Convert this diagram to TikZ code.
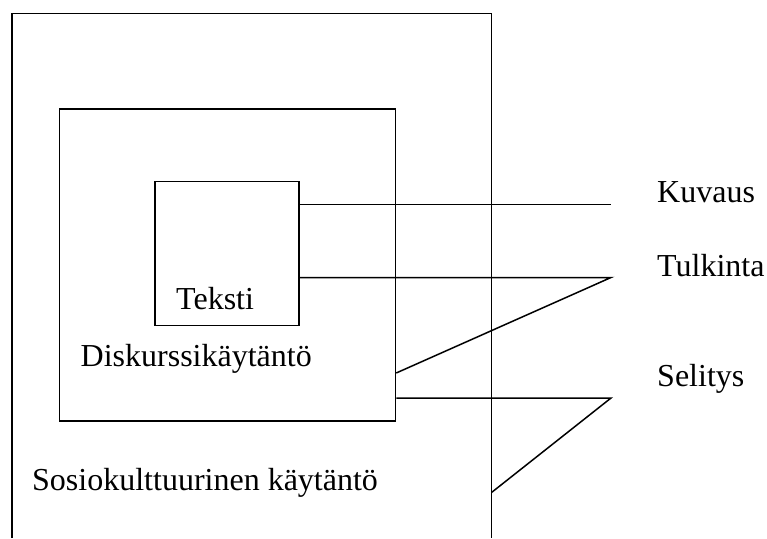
\documentclass[tikz,border=0pt]{standalone}
\usepackage{fontspec}
\setmainfont{Liberation Serif}
\begin{document}
\begin{tikzpicture}[x=1pt,y=-1pt,
  line/.style={line width=1.5pt,black},
  box/.style={draw,line width=1.5pt,inner sep=0pt,minimum width=#1},
  lbl/.style={anchor=base west,inner sep=0pt,font=\fontsize{32}{38}\selectfont}]
\useasboundingbox (0,0) rectangle (767,538);
% outer region (open at bottom)
\coordinate (osw) at (12,538);
\coordinate (onw) at (12,13.5);
\coordinate (one) at (491.5,13.5);
\coordinate (ose) at (491.5,538);
\draw[line,line join=miter] (osw) -- (onw) -- (one) -- (ose);
% inner boxes
\node[box=336pt,minimum height=312pt] (disk) at ({(59.5+395.5)/2},{(109+421)/2}) {};
\node[box=144pt,minimum height=144pt] (teksti) at ({(155+299)/2},{(181.5+325.5)/2}) {};
% labels
\node[lbl] (tTeksti) at (176,309.5) {Teksti};
\node[lbl] (tDisk) at (80.5,366.7) {Diskurssikäytäntö};
\node[lbl] (tSosio) at (32,490) {Sosiokulttuurinen käytäntö};
\node[lbl] (tKuv) at (657,202.3) {Kuvaus};
\node[lbl] (tTul) at (657,276) {Tulkinta};
\node[lbl] (tSel) at (657,386.7) {Selitys};
% connector points
\coordinate (k1) at (teksti.east |- 0,204.5);
\coordinate (k2) at (611,204.5);
\coordinate (t1) at (teksti.east |- 0,277.5);
\coordinate (t2) at (611,277.5);
\coordinate (t3) at (disk.east |- 0,373);
\coordinate (s1) at (disk.east |- 0,398);
\coordinate (s2) at (611,398);
\coordinate (s3) at (one |- 0,492.5);
\draw[line] (k1) -- (k2);
\draw[line,line join=miter] (t1) -- (t2) -- (t3);
\draw[line,line join=miter] (s1) -- (s2) -- (s3);
\end{tikzpicture}
\end{document}
